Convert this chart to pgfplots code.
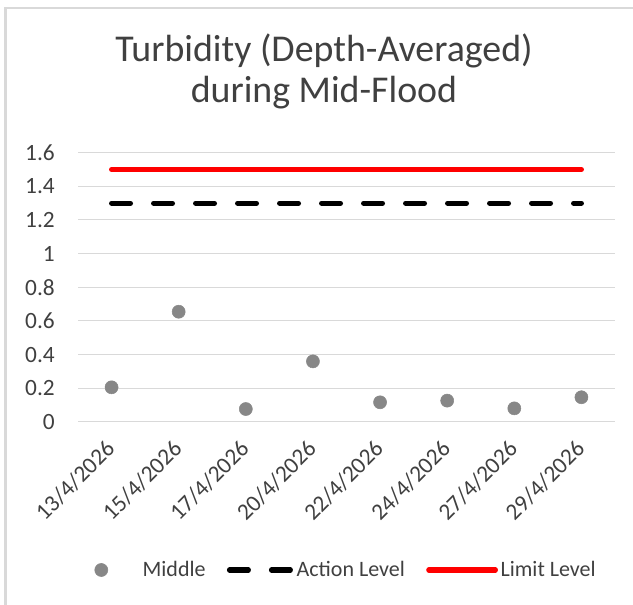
\documentclass[border=0pt]{standalone}
\usepackage{fontspec}
\setmainfont{Carlito}
\usepackage{pgfplots}
\pgfplotsset{compat=1.18}

\definecolor{txt}{HTML}{404040}
\definecolor{gridc}{HTML}{D9D9D9}
\definecolor{dotgray}{HTML}{878787}
\definecolor{limred}{HTML}{FF0000}
\newcommand{\lblfont}{\fontsize{16.5}{19.8}\selectfont}
\newcommand{\tickfont}{\fontsize{17.5}{21}\selectfont}

\pgfplotsset{
    dotlegend/.style={legend image code/.code={\path[draw=none, fill=none] (0pt,0pt) -- (34pt,0pt); \draw[##1] plot coordinates {(5pt,0pt)};}},
    dashlegend/.style={legend image code/.code={\draw[##1] (0pt,0pt) -- (46.5pt,0pt);}},
    redlegend/.style={legend image code/.code={\draw[##1] (0pt,0pt) -- (50pt,0pt);}},
}

\begin{document}
\begin{tikzpicture}
\useasboundingbox (0,0) rectangle (474.75pt,453.75pt);
% chart frame (cropped)
\draw[gridc, line width=2pt] (4.1pt,0) -- (4.1pt,447.75pt) -- (474.75pt,447.75pt);
% title
\node[anchor=base, text=txt, font=\fontsize{28.4}{34}\selectfont] at (243pt,407.25pt) {Turbidity (Depth-Averaged)};
\node[anchor=base, text=txt, font=\fontsize{28.4}{34}\selectfont] at (243pt,376.5pt) {during Mid-Flood};

\begin{axis}[
    at={(58.5pt,137.25pt)}, anchor=south west,
    scale only axis, width=402.75pt, height=202pt,
    xmin=-0.5, xmax=7.5, ymin=0, ymax=1.6,
    xtick={0,1,2,3,4,5,6,7},
    xticklabels={13/4/2026,15/4/2026,17/4/2026,20/4/2026,22/4/2026,24/4/2026,27/4/2026,29/4/2026},
    ytick={0,0.2,0.4,0.6,0.8,1,1.2,1.4,1.6},
    yticklabels={0,0.2,0.4,0.6,0.8,1,1.2,1.4,1.6},
    /pgf/number format/assume math mode=true,
    ymajorgrids,
    grid style={gridc, line width=0.75pt},
    axis line style={draw=none},
    major tick length=0pt,
    tick label style={font=\tickfont, text=txt},
    yticklabel style={anchor=east, inner sep=0pt, xshift=-17.25pt},
    xticklabel style={inner sep=0pt, xshift=-0.5pt, yshift=-17pt, rotate=45, anchor=east},
    legend columns=3,
    legend style={draw=none, fill=none, at={(0.5,-0.5495)}, anchor=center,
        font=\lblfont, text=txt,
        /tikz/every even column/.append style={column sep=14pt}},
    clip=false,
]
\addplot[only marks, mark=*, mark size=4.9pt, mark options={draw=dotgray, fill=dotgray}, dotlegend]
    coordinates {(0,0.206) (1,0.655) (2,0.077) (3,0.36) (4,0.117) (5,0.127) (6,0.081) (7,0.147)};
\addlegendentry{Middle}

\addplot[black, line width=3.8pt, line cap=round, dash pattern=on 14.2pt off 17.3pt, dashlegend]
    coordinates {(0,1.3) (1,1.3) (2,1.3) (3,1.3) (4,1.3) (5,1.3) (6,1.3) (7,1.3)};
\addlegendentry{Action Level}

\addplot[limred, line width=3.8pt, line cap=round, redlegend]
    coordinates {(0,1.5) (1,1.5) (2,1.5) (3,1.5) (4,1.5) (5,1.5) (6,1.5) (7,1.5)};
\addlegendentry{Limit Level}
\end{axis}
\end{tikzpicture}
\end{document}
